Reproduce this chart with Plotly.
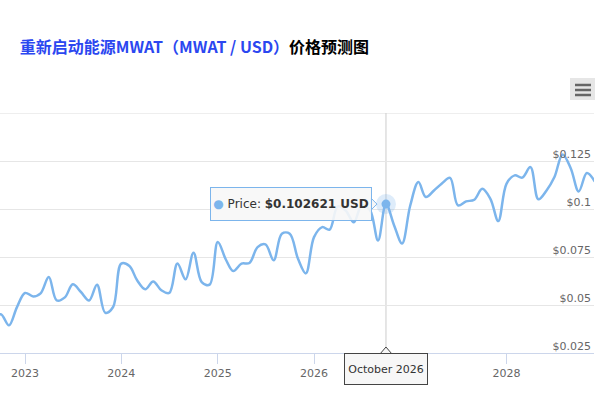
import pandas as pd
import plotly.graph_objects as go

# monthly forecast, Sep 2022 .. Dec 2028
months = pd.date_range("2022-09-01", "2028-12-01", freq="MS")
prices = [
    0.0410, 0.0452, 0.0394, 0.0488,
    0.0563, 0.0545, 0.0561, 0.0646, 0.0524, 0.0540, 0.0608, 0.0568, 0.0524, 0.0606, 0.0460, 0.0490,
    0.0716, 0.0703, 0.0629, 0.0582, 0.0623, 0.0577, 0.0563, 0.0716, 0.0634, 0.0773, 0.0620, 0.0606,
    0.0828, 0.0736, 0.0677, 0.0716, 0.0719, 0.0802, 0.0816, 0.0733, 0.0872, 0.0872, 0.0742, 0.0665,
    0.0854, 0.0906, 0.0893, 0.1014, 0.0993, 0.0931, 0.1019, 0.0995, 0.0837, 0.102621, 0.0915, 0.0821,
    0.1019, 0.1141, 0.1063, 0.1097, 0.1134, 0.1163, 0.1019, 0.1040, 0.1049, 0.1106, 0.1054, 0.0938,
    0.1132, 0.1176, 0.1164, 0.1219, 0.1051, 0.1097, 0.1167, 0.1285, 0.1212, 0.1092, 0.1188, 0.1144,
]
year_ticks = ["2023", "2024", "2025", "2026", "2027", "2028"]
price_ticks = [0.025, 0.05, 0.075, 0.1, 0.125, 0.15]
price_labels = ["$0.025", "$0.05", "$0.075", "$0.1", "$0.125", ""]
hover_month = "2026-10-01"

LINE = "#7cb5ec"
FONT = "DejaVu Sans"


def main():
    df = pd.DataFrame({"month": months, "price": prices})
    hov = df[df["month"] == hover_month].iloc[0]
    fig = plot_data(df, hov)
    # page has a default 8px body margin, drop it so the chart sits at 0,0
    fig.write_html("out.html", config={"displayModeBar": False},
                   post_script="document.body.style.margin='0';")


def plot_data(df, hov):
    fig = go.Figure()

    fig.add_trace(go.Scatter(
        x=df["month"], y=df["price"], mode="lines",
        line=dict(color=LINE, width=2.5, shape="spline", smoothing=1),
        hoverinfo="skip", showlegend=False,
    ))
    # highlighted point with halo
    fig.add_trace(go.Scatter(
        x=[hov["month"]], y=[hov["price"]], mode="markers",
        marker=dict(size=20, color=LINE, opacity=0.25),
        hoverinfo="skip", showlegend=False,
    ))
    fig.add_trace(go.Scatter(
        x=[hov["month"]], y=[hov["price"]], mode="markers",
        marker=dict(size=9, color=LINE),
        hoverinfo="skip", showlegend=False,
    ))

    # top grid line (plotly skips the one sitting on the edge)
    fig.add_shape(type="line", xref="paper", yref="y", x0=0, x1=1,
                  y0=price_ticks[-1], y1=price_ticks[-1],
                  line=dict(color="#e6e6e6", width=1), layer="below")

    # crosshair
    fig.add_shape(type="line", x0=hov["month"], x1=hov["month"], y0=0, y1=1,
                  xref="x", yref="paper", line=dict(color="#cccccc", width=1), layer="below")

    # tooltip for the point
    fig.add_annotation(
        x=hov["month"], y=hov["price"], xanchor="right", yanchor="middle", xshift=-14,
        text="<span style='color:%s'>●</span> Price: <b>$%.6f USD</b>" % (LINE, hov["price"]),
        showarrow=False, width=158, height=30, borderpad=1, align="center",
        bgcolor="rgba(247,247,247,0.9)", bordercolor=LINE, borderwidth=1,
        font=dict(family=FONT, size=12, color="#333333"),
    )
    fig.add_shape(type="path", xref="x", yref="y", xsizemode="pixel", ysizemode="pixel",
                  xanchor=hov["month"], yanchor=hov["price"],
                  path="M -15,-6 L -9,0 L -15,6 Z",
                  fillcolor="rgba(247,247,247,1)", line=dict(color=LINE, width=1))

    # tooltip on the x axis
    fig.add_annotation(
        x=hov["month"], y=0, yref="paper", xanchor="center", yanchor="top", yshift=0,
        text=hov["month"].strftime("%B %Y"), showarrow=False,
        width=80, height=28, borderpad=1,
        bgcolor="#f7f7f7", bordercolor="#444444", borderwidth=1,
        font=dict(family=FONT, size=11, color="#333333"),
    )
    fig.add_shape(type="path", xref="x", yref="paper", xsizemode="pixel", ysizemode="pixel",
                  xanchor=hov["month"], yanchor=0,
                  path="M -6,-1 L 0,6 L 6,-1 Z",
                  fillcolor="#f7f7f7", line=dict(color="#444444", width=1))

    # export menu button
    fig.add_shape(type="rect", xref="paper", yref="paper", x0=0.9596, x1=1.0017,
                  y0=1.0542, y1=1.1458, fillcolor="#e6e6e6", line=dict(width=0))
    for yy in [1.1167, 1.0958, 1.075]:
        fig.add_shape(type="line", xref="paper", yref="paper", x0=0.968, x1=0.995,
                      y0=yy, y1=yy, line=dict(color="#666666", width=2.5))

    fig.update_layout(
        width=600, height=400,
        margin=dict(l=0, r=6, t=113, b=47),
        paper_bgcolor="white", plot_bgcolor="white",
        title=dict(
            text="<b><span style='color:#2b47f0'>重新启动能源MWAT（MWAT / USD）</span>价格预测图</b>",
            xref="container", x=0.033, xanchor="left", y=0.8825, yanchor="middle",
            font=dict(family="Noto Sans CJK SC", size=16, color="#000000"),
        ),
        xaxis=dict(
            type="date", range=["2022-09-28", "2028-11-28"],
            tickvals=[y + "-01-01" for y in year_ticks], ticktext=year_ticks,
            ticks="outside", ticklen=10, tickcolor="#ccd6eb",
            showline=True, linecolor="#ccd6eb", showgrid=False, zeroline=False,
            tickfont=dict(family=FONT, size=11, color="#666666"),
        ),
        yaxis=dict(
            range=[0.025, 0.1501], tickvals=price_ticks, ticktext=price_labels,
            side="right", ticklabelposition="inside", ticklabelshift=-7,
            gridcolor="#e6e6e6", showline=False, zeroline=False, ticks="",
            tickfont=dict(family=FONT, size=11, color="#666666"),
        ),
    )
    return fig


if __name__ == "__main__":
    main()
